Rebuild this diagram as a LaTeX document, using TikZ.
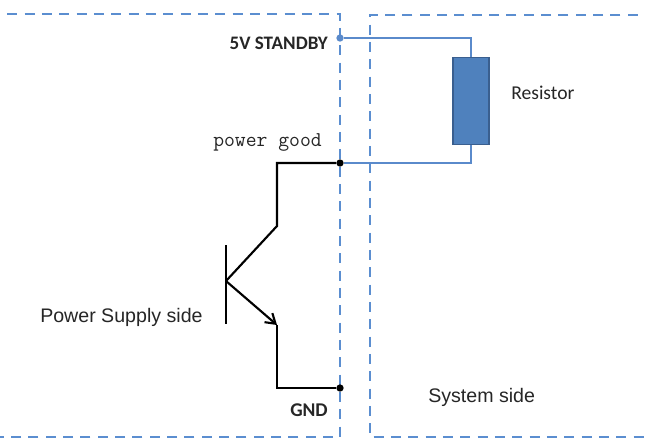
\documentclass[tikz,border=0pt]{standalone}
\usepackage{fontspec}
\usetikzlibrary{arrows.meta}
\newfontfamily\calfont{Carlito}
\newfontfamily\arialfont{Liberation Sans}
\definecolor{zoneblue}{HTML}{5B8ED0}
\definecolor{wireblue}{HTML}{5A8ACB}
\definecolor{resfill}{HTML}{4F81BD}
\definecolor{resedge}{HTML}{3A5F8F}
\definecolor{txt}{HTML}{262626}
\tikzset{
  zone/.style={zoneblue, line width=2.1pt, dash pattern=on 7.6pt off 5.4pt, dash phase=7.6pt},
  bwire/.style={wireblue, line width=1.5pt},
  kwire/.style={black, line width=1.6pt},
  bdot/.style={circle, fill=wireblue, inner sep=0pt, minimum size=5.5pt},
  kdot/.style={circle, fill=black, inner sep=0pt, minimum size=5.5pt},
  res/.style={rectangle, fill=resfill, draw=resedge, line width=1.2pt, minimum width=27pt, minimum height=65pt},
  lbl/.style={inner sep=0pt, text=txt}
}
\begin{document}
\begin{tikzpicture}[x=0.75pt, y=-0.75pt]
\useasboundingbox (0,0) rectangle (645,440);
% the two sides
\draw[zone] (0,14) -- (340,14) -- (340,437) -- (0,437);
\draw[zone] (645,15) -- (370,15) -- (370,437) -- (645,437);
% terminals
\node[bdot] (sb) at (340,38){};
\node[kdot] (pg) at (340,163){};
\node[kdot] (gnd) at (340,388){};
\node[res] (r) at (471,101){};
% transistor points
\coordinate (c1) at (277,163);
\coordinate (c2) at (277,226);
\coordinate (b) at (226,281);
\coordinate (bt) at (226,245);
\coordinate (bb) at (226,324);
\coordinate (e1) at (277,325);
\coordinate (e2) at (277,388);
\draw[bwire](sb) -| (r.north);
\draw[bwire](r.south) |- (pg);
\draw[kwire](pg) -- (c1) -- (c2) -- (b);
\draw[kwire](bt) -- (bb);
\draw[kwire, -{Straight Barb[length=7pt, width=9pt]}](b) -- (e1);
\draw[kwire](e1) -- (e2) -- (gnd);
% labels
\node[lbl, anchor=east, font=\calfont\bfseries\fontsize{14.3}{16}\selectfont] (sbl) at (328,43){5V STANDBY};
\node[lbl, anchor=base west, font=\ttfamily\fontsize{15.8}{18}\selectfont] (pgl) at (213,146){power good};
\node[lbl, font=\calfont\bfseries\fontsize{14.6}{16}\selectfont] (gndl) at (309,410){GND};
\node[lbl, anchor=west, font=\calfont\fontsize{14.7}{16}\selectfont] (rl) at (511,93){Resistor};
\node[lbl, anchor=west, font=\arialfont\fontsize{14.7}{16}\selectfont] (psl) at (40,317){Power Supply side};
\node[lbl, anchor=west, font=\arialfont\fontsize{14.7}{16}\selectfont] (ssl) at (428,397){System side};
\end{tikzpicture}
\end{document}
